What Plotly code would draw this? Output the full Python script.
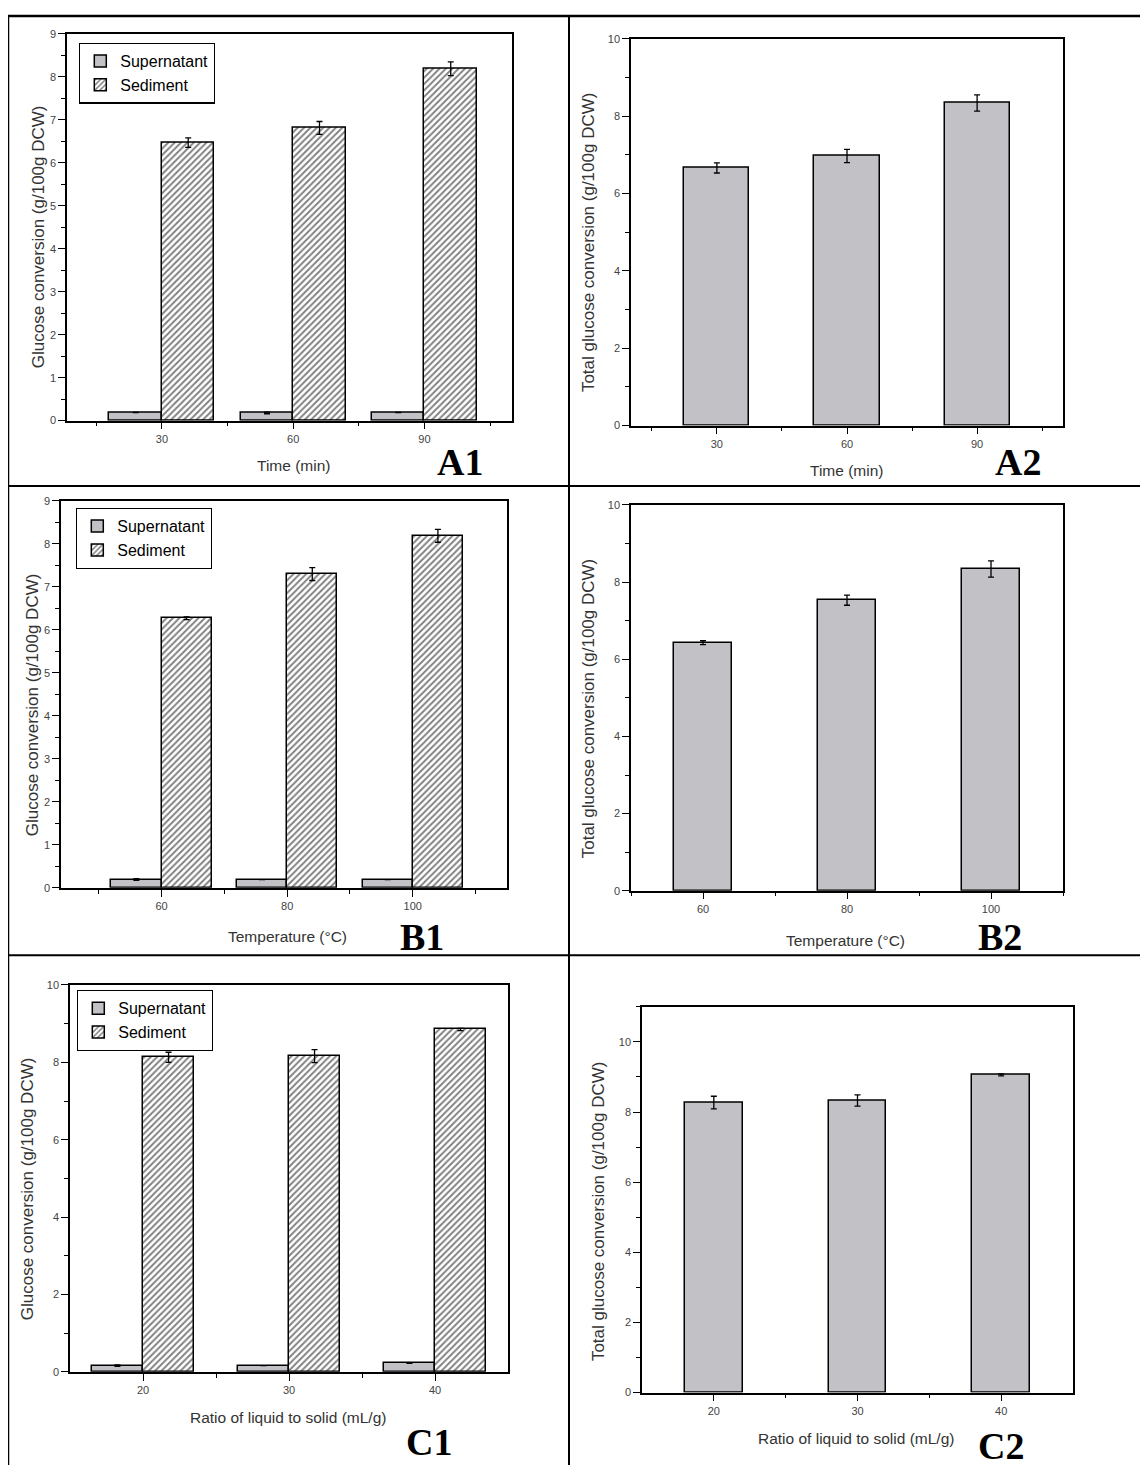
import plotly.graph_objects as go

# page size and default body margin of the html page
W, H = 1148, 1479
M = 8
FW, FH = W - 2 * M, H - 2 * M

# ---------------- data ----------------
time_min = [30, 60, 90]
a1_sup = [0.19, 0.18, 0.19]
a1_sup_err = [0.0, 0.02, 0.0]
a1_sed = [6.47, 6.81, 8.19]
a1_sed_err = [0.11, 0.15, 0.16]
a2_total = [6.66, 6.97, 8.34]
a2_total_err = [0.13, 0.17, 0.21]

temp_c = [60, 80, 100]
b1_sup = [0.19, 0.19, 0.19]
b1_sup_err = [0.02, 0.0, 0.0]
b1_sed = [6.27, 7.30, 8.19]
b1_sed_err = [0.03, 0.15, 0.15]
b2_total = [6.43, 7.53, 8.34]
b2_total_err = [0.05, 0.13, 0.21]

ratio = [20, 30, 40]
c1_sup = [0.16, 0.16, 0.22]
c1_sup_err = [0.02, 0.0, 0.0]
c1_sed = [8.13, 8.16, 8.85]
c1_sed_err = [0.13, 0.17, 0.03]
c2_total = [8.27, 8.33, 9.06]
c2_total_err = [0.18, 0.16, 0.03]

GRAY = "#c2c1c6"
FONT = "Arial, Liberation Sans, sans-serif"
SERIF = "Times New Roman, Liberation Serif, serif"


def px(x):
    return (x - M) / FW


def py(y):
    return 1 - (y - M) / FH


fig = go.Figure()


def err(vals):
    return dict(type="data", array=vals, visible=True, color="black",
                thickness=1.3, width=3)


def grouped(xs, sup, sup_e, sed, sed_e, w, xa, ya, leg):
    fig.add_trace(go.Bar(
        x=xs, y=sup, width=w, offset=-w, name="Supernatant",
        marker=dict(color=GRAY, line=dict(color="black", width=1.5)),
        error_y=err(sup_e), xaxis=xa, yaxis=ya, legend=leg, showlegend=True))
    fig.add_trace(go.Bar(
        x=xs, y=sed, width=w, offset=0, name="Sediment",
        marker=dict(color="white", line=dict(color="black", width=1.5),
                    pattern=dict(shape="/", fgcolor="black", bgcolor="white",
                                 size=4.5, solidity=0.42)),
        error_y=err(sed_e), xaxis=xa, yaxis=ya, legend=leg, showlegend=True))


def single(xs, vals, e, w, xa, ya):
    fig.add_trace(go.Bar(
        x=xs, y=vals, width=w, name="Total",
        marker=dict(color=GRAY, line=dict(color="black", width=1.5)),
        error_y=err(e), xaxis=xa, yaxis=ya, showlegend=False))


grouped(time_min, a1_sup, a1_sup_err, a1_sed, a1_sed_err, 12, "x", "y", "legend")
single(time_min, a2_total, a2_total_err, 15, "x2", "y2")
grouped(temp_c, b1_sup, b1_sup_err, b1_sed, b1_sed_err, 8, "x3", "y3", "legend2")
single(temp_c, b2_total, b2_total_err, 8, "x4", "y4")
grouped(ratio, c1_sup, c1_sup_err, c1_sed, c1_sed_err, 3.5, "x5", "y5", "legend3")
single(ratio, c2_total, c2_total_err, 4, "x6", "y6")


# ------------- axes -------------
def xaxis(dom, rng, tv, minor_tv, anchor):
    return dict(domain=[px(dom[0]), px(dom[1])], range=rng, tickmode="array",
                tickvals=tv, ticktext=[str(v) for v in tv], anchor=anchor,
                ticks="outside", ticklen=7, tickwidth=1.3, tickcolor="black",
                minor=dict(tickmode="array", tickvals=minor_tv, ticks="outside",
                           ticklen=4, tickwidth=1.3, tickcolor="black", showgrid=False),
                showline=True, linewidth=1.5, linecolor="black", mirror=True,
                showgrid=False, zeroline=False,
                tickfont=dict(family=FONT, size=11, color="#444"))


def yaxis(dom, rng, dt, anchor):
    return dict(domain=[py(dom[1]), py(dom[0])], range=rng, dtick=dt, tick0=0,
                ticks="outside", ticklen=7, tickwidth=1.3, tickcolor="black",
                minor=dict(dtick=dt / 2, tick0=0, ticks="outside", ticklen=4,
                           tickwidth=1.3, tickcolor="black", showgrid=False),
                showline=True, linewidth=1.5, linecolor="black", mirror=True,
                showgrid=False, zeroline=False, anchor=anchor,
                tickfont=dict(family=FONT, size=11, color="#444"))


layout_axes = {
    "xaxis": xaxis((67, 512), [8.3, 110], time_min, [15, 45, 75, 105], "y"),
    "yaxis": yaxis((28, 418), [0, 9], 1, "x"),
    "xaxis2": xaxis((631, 1063), [10.2, 109.8], time_min, [15, 45, 75, 105], "y2"),
    "yaxis2": yaxis((33, 423), [0, 10], 2, "x2"),
    "xaxis3": xaxis((61, 507), [44, 115], temp_c, [50, 70, 90, 110], "y3"),
    "yaxis3": yaxis((499, 889), [0, 9], 1, "x3"),
    "xaxis4": xaxis((631, 1063), [50, 110], temp_c, [50, 70, 90, 110], "y4"),
    "yaxis4": yaxis((503, 892), [0, 10], 2, "x4"),
    "xaxis5": xaxis((70, 508), [15, 45], ratio, [25, 35], "y5"),
    "yaxis5": yaxis((987, 1377), [0, 10], 2, "x5"),
    "xaxis6": xaxis((642, 1073), [15, 45], ratio, [25, 35], "y6"),
    "yaxis6": yaxis((1009, 1398), [0, 11], 2, "x6"),
}


def legend(x, y):
    return dict(x=px(x), y=py(y), xanchor="left", yanchor="top",
                bgcolor="white", bordercolor="black", borderwidth=1.3,
                font=dict(family=FONT, size=16, color="black"),
                tracegroupgap=0, itemwidth=30, traceorder="normal")


# ------------- annotations -------------
ann = []


def text(x, y, s, size=13, angle=0, fam=FONT, bold=False, color="#333"):
    ann.append(dict(x=px(x), y=py(y), xref="paper", yref="paper", text=s,
                    showarrow=False, textangle=angle, xanchor="center", yanchor="middle",
                    font=dict(family=fam, size=size, color=color,
                              weight="bold" if bold else "normal")))


ylab1 = "Glucose conversion (g/100g DCW)"
ylab2 = "Total glucose conversion (g/100g DCW)"
temp_lab = "Temperature (°C)"
ratio_lab = "Ratio of liquid to solid (mL/g)"
YS, XS, LS = 17, 15.5, 38

text(38, 233, ylab1, YS, -90)
text(293, 463, "Time (min)", XS)
text(460, 460, "A1", LS, 0, SERIF, True, "black")
text(588, 238, ylab2, YS, -90)
text(846, 468, "Time (min)", XS)
text(1018, 460, "A2", LS, 0, SERIF, True, "black")

text(32, 705, ylab1, YS, -90)
text(287, 938, temp_lab, XS)
text(422, 939, "B1", LS, 0, SERIF, True, "black")
text(588, 708, ylab2, YS, -90)
text(845, 942, temp_lab, XS)
text(1000, 939, "B2", LS, 0, SERIF, True, "black")

text(27, 1193, ylab1, YS, -90)
text(288, 1423, ratio_lab, XS)
text(429, 1448, "C1", LS, 0, SERIF, True, "black")
text(598, 1215, ylab2, YS, -90)
text(856, 1444, ratio_lab, XS)
text(1001, 1452, "C2", LS, 0, SERIF, True, "black")

# ------------- panel borders -------------
shapes = []


def line(x0, y0, x1, y1, w=2):
    shapes.append(dict(type="line", xref="paper", yref="paper",
                       x0=max(px(x0), 0), y0=py(y0), x1=min(px(x1), 1), y1=max(py(y1), 0),
                       line=dict(color="black", width=w)))


line(8, 10, 1148, 10, 2.5)
line(8, 10, 8, 1479, 2.5)
line(569, 10, 569, 1479, 2)
line(8, 484, 1148, 484, 2)
line(8, 957, 1148, 957, 2)

fig.update_layout(
    width=FW, height=FH, margin=dict(l=0, r=0, t=0, b=0),
    paper_bgcolor="white", plot_bgcolor="white",
    barmode="overlay", bargap=0,
    legend=legend(79, 37), legend2=legend(76, 506), legend3=legend(77, 992),
    annotations=ann, shapes=shapes, **layout_axes,
)

fig.write_html("out.html")
